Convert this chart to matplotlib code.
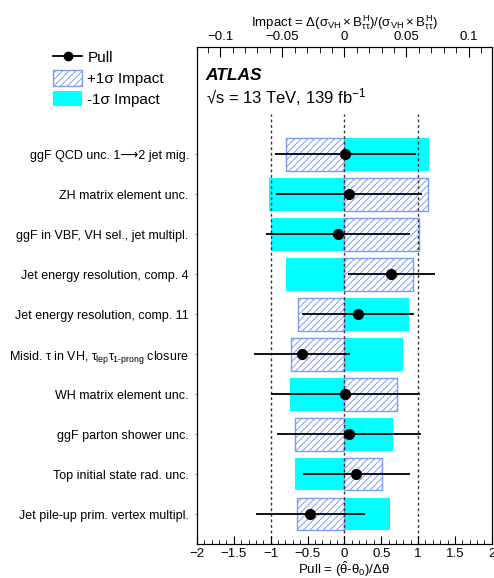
import matplotlib
matplotlib.use("Agg")
import matplotlib.pyplot as plt
from matplotlib.lines import Line2D
from matplotlib.patches import Patch
from matplotlib.ticker import MultipleLocator, FixedLocator, FixedFormatter
import numpy as np

plt.rcParams['font.family'] = ['Liberation Sans', 'DejaVu Sans']
plt.rcParams['mathtext.fontset'] = 'custom'
plt.rcParams['mathtext.rm'] = 'Liberation Sans'
plt.rcParams['mathtext.it'] = 'Liberation Sans'
plt.rcParams['mathtext.bf'] = 'Liberation Sans:bold'
plt.rcParams['hatch.linewidth'] = 0.7

# nuisance parameters, top to bottom
params = [
    'ggF QCD unc. 1\u27f62 jet mig.',
    'ZH matrix element unc.',
    'ggF in VBF, VH sel., jet multipl.',
    'Jet energy resolution, comp. 4',
    'Jet energy resolution, comp. 11',
    r'Misid. $\tau$ in VH, $\tau_{\rm lep}\tau_{\rm 1‐prong}$ closure',
    'WH matrix element unc.',
    'ggF parton shower unc.',
    'Top initial state rad. unc.',
    'Jet pile-up prim. vertex multipl.',
]
pull = [0.01, 0.06, -0.09, 0.63, 0.18, -0.58, 0.01, 0.06, 0.16, -0.47]
pull_err_lo = [0.95, 0.99, 0.98, 0.58, 0.75, 0.65, 1.00, 0.98, 0.72, 0.73]
pull_err_hi = [0.96, 1.00, 0.98, 0.60, 0.76, 0.66, 1.01, 0.98, 0.73, 0.75]
impact_up = [-0.047, 0.067, 0.060, 0.055, -0.037, -0.043, 0.042, -0.040, 0.030, -0.038]
impact_dn = [0.068, -0.061, -0.059, -0.047, 0.052, 0.047, -0.044, 0.039, -0.040, 0.037]

pull_ticks = [-2, -1.5, -1, -0.5, 0, 0.5, 1, 1.5, 2]
pull_labels = ['\u22122', '\u22121.5', '\u22121', '\u22120.5', '0', '0.5', '1', '1.5', '2']
imp_ticks = [-0.1, -0.05, 0, 0.05, 0.1]
imp_labels = ['\u22120.1', '\u22120.05', '0', '0.05', '0.1']

ypos = np.arange(len(params))[::-1]

fig = plt.figure(figsize=(4.94, 5.78), dpi=100)
ax = fig.add_axes([0.3988, 0.0588, 0.5966, 0.8600])
ax2 = ax.twiny()

# impacts on the top axis
ax2.barh(ypos, impact_dn, height=0.82, color='#00ffff', edgecolor='none', zorder=1)
ax2.barh(ypos, impact_up, height=0.82, facecolor='none', edgecolor='#7b9bf5',
         hatch='/////', linewidth=1.0, zorder=2)
ax2.set_xlim(-0.1186, 0.1186)
ax2.xaxis.set_major_locator(FixedLocator(imp_ticks))
ax2.xaxis.set_major_formatter(FixedFormatter(imp_labels))
ax2.xaxis.set_minor_locator(MultipleLocator(0.01))
ax2.tick_params(axis='x', which='major', direction='in', length=7, labelsize=9.5, pad=3)
ax2.tick_params(axis='x', which='minor', direction='in', length=4)
ax2.set_xlabel(r'Impact = $\Delta(\sigma_{\rm VH} \times B^{\rm H}_{\tau\tau})/(\sigma_{\rm VH} \times B^{\rm H}_{\tau\tau})$',
               fontsize=9.5, labelpad=3)

# pulls on the bottom axis, drawn above the impact bars
ax.set_zorder(ax2.get_zorder() + 1)
ax.patch.set_visible(False)
for xv in (-1, 0, 1):
    ax.plot([xv, xv], [-0.75, 10.0], ls=(0, (2, 2)), color='#333333', lw=1.0, zorder=1)
ax.errorbar(pull, ypos, xerr=[pull_err_lo, pull_err_hi], fmt='o', color='black',
            ms=7, elinewidth=1.3, capsize=0, zorder=3)
ax.set_xlim(-2, 2)
ax.set_ylim(-0.75, 11.69)
ax.xaxis.set_major_locator(FixedLocator(pull_ticks))
ax.xaxis.set_major_formatter(FixedFormatter(pull_labels))
ax.xaxis.set_minor_locator(MultipleLocator(0.1))
ax.tick_params(axis='x', which='major', direction='in', length=6, labelsize=9.5, pad=3)
ax.tick_params(axis='x', which='minor', direction='in', length=3)
ax.set_xlabel(r'Pull = $(\hat{\theta}$-$\theta_{0})/\Delta\theta$', fontsize=9.5)
ax.xaxis.set_label_coords(0.5, -0.031)
ax.set_yticks(ypos)
ax.set_yticklabels(params, fontsize=9)
ax.tick_params(axis='y', direction='out', length=2, width=0.6, color='#aaaaaa', pad=4)

ax.text(0.03, 0.942, 'ATLAS', transform=ax.transAxes, fontsize=12.5,
        fontweight='bold', fontstyle='italic', va='center')
ax.text(0.03, 0.900, '\u221as = 13 TeV, 139 fb$^{-1}$', transform=ax.transAxes,
        fontsize=12, va='center')

handles = [
    Line2D([], [], color='black', marker='o', ms=6, lw=1.3),
    Patch(facecolor='white', edgecolor='#7b9bf5', hatch='/////'),
    Patch(facecolor='#00ffff', edgecolor='none'),
]
fig.legend(handles, ['Pull', '+1\u03c3 Impact', '-1\u03c3 Impact'],
           loc='upper left', bbox_to_anchor=(0.095, 0.925), frameon=False,
           fontsize=11, handlelength=1.9, handleheight=1.2, handletextpad=0.35,
           labelspacing=0.3, borderaxespad=0)

fig.savefig('out.png', dpi=100)
